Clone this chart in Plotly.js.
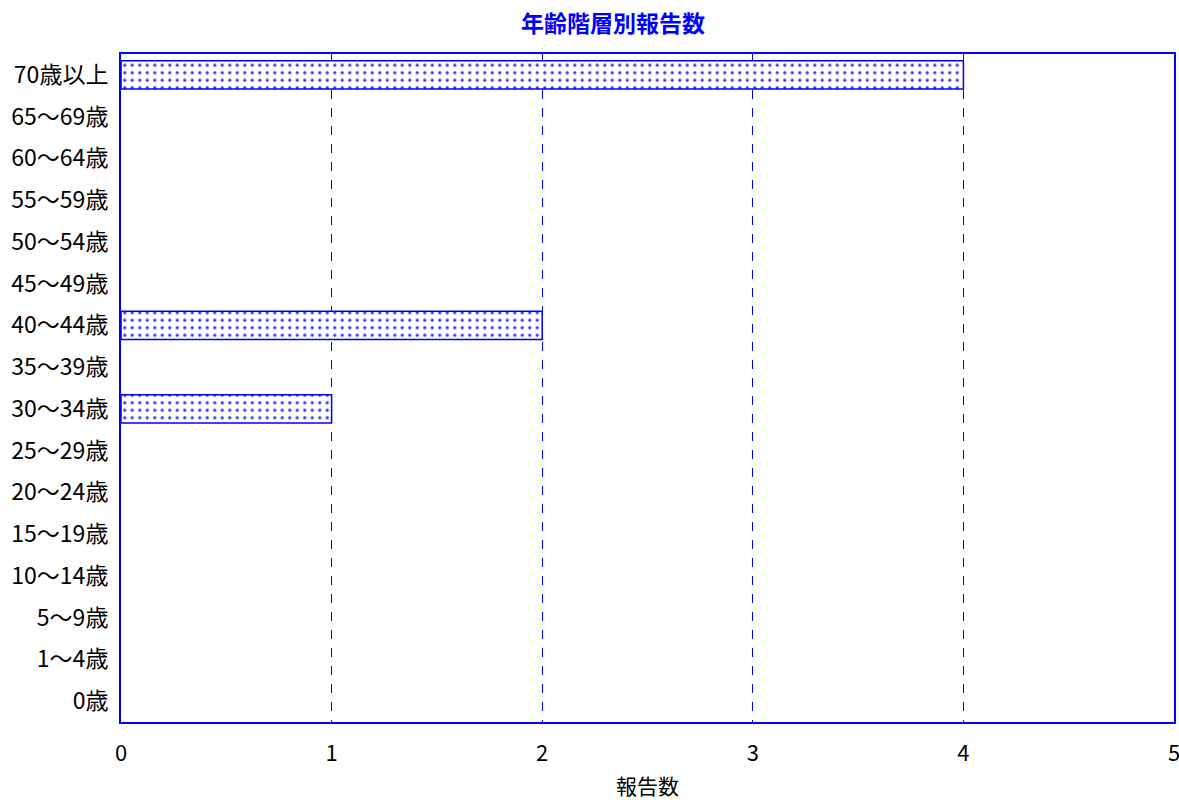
<!DOCTYPE html>
<html>
<head>
<meta charset="utf-8">
<script src="https://cdn.plot.ly/plotly-3.0.1.min.js"></script>
<style>
  body { margin: 0; background: #fff; }
  #chart { width: 1179px; height: 800px; }
</style>
</head>
<body>
<div id="chart"></div>
<script>
const ageGroups = ['0歳', '1〜4歳', '5〜9歳', '10〜14歳', '15〜19歳', '20〜24歳', '25〜29歳',
  '30〜34歳', '35〜39歳', '40〜44歳', '45〜49歳', '50〜54歳', '55〜59歳', '60〜64歳',
  '65〜69歳', '70歳以上'];
const reports = [0, 0, 0, 0, 0, 0, 0, 1, 0, 2, 0, 0, 0, 0, 0, 4];
const xTicks = [0, 1, 2, 3, 4, 5];

const blue = '#0000ff';
const font = '"Noto Sans CJK JP", "Noto Sans", sans-serif';

const trace = {
  type: 'bar',
  orientation: 'h',
  // zero counts are left empty so no sliver is drawn at x = 0
  x: reports.map(v => (v === 0 ? null : v)),
  y: ageGroups,
  width: 0.68,
  marker: {
    color: '#ffffff',
    line: { color: blue, width: 1.5 },
    pattern: { shape: '.', fgcolor: '#3333ff', bgcolor: '#ffffff', size: 7.5, solidity: 0.15 }
  },
  hoverinfo: 'x+y'
};

const layout = {
  width: 1179,
  height: 800,
  margin: { l: 121, r: 5, t: 54, b: 78 },
  paper_bgcolor: '#ffffff',
  plot_bgcolor: '#ffffff',
  font: { family: font, color: '#000000', size: 21 },
  title: {
    text: '<b>年齢階層別報告数</b>',
    font: { family: font, color: blue, size: 23 },
    x: 0.52, xanchor: 'center', y: 0.97, yanchor: 'middle'
  },
  xaxis: {
    range: [0, 5],
    tickvals: xTicks,
    showgrid: true,
    gridcolor: blue,
    griddash: 'dash',
    gridwidth: 1.2,
    zeroline: false,
    showline: true,
    linecolor: blue,
    linewidth: 2,
    mirror: true,
    ticks: '',
    ticklabelstandoff: 11,
    ticklabeloverflow: 'allow',
    tickfont: { size: 22 },
    title: { text: '報告数', font: { size: 21 }, standoff: 16 }
  },
  yaxis: {
    type: 'category',
    categoryorder: 'array',
    categoryarray: ageGroups,
    range: [-0.5, ageGroups.length - 0.5],
    showgrid: false,
    zeroline: false,
    showline: true,
    linecolor: blue,
    linewidth: 2,
    mirror: true,
    ticks: '',
    ticklabelstandoff: 6,
    tickfont: { size: 23 }
  },
  showlegend: false
};

Plotly.newPlot('chart', [trace], layout, { displayModeBar: false, staticPlot: true });
</script>
</body>
</html>
